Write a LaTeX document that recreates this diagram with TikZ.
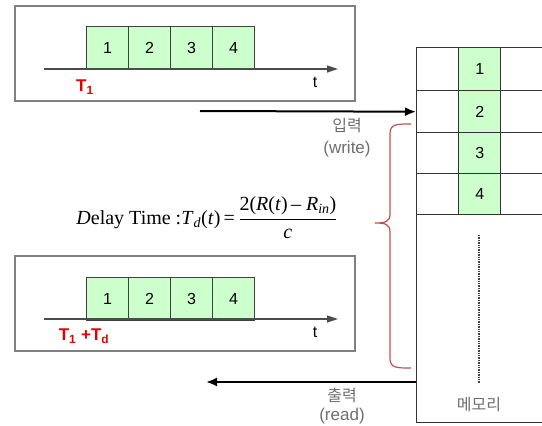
\documentclass[tikz,border=0pt]{standalone}
\usepackage{fontspec}
\setmainfont{Liberation Sans}
\newfontfamily\krfont{Noto Sans CJK KR}
\newfontfamily\serfont{Liberation Serif}
\usetikzlibrary{arrows.meta}
\definecolor{cellgreen}{RGB}{204,255,204}
\definecolor{panelgray}{RGB}{128,128,128}
\definecolor{bracered}{RGB}{192,80,77}
\definecolor{labgray}{RGB}{110,110,110}
\begin{document}
\begin{tikzpicture}[x=1pt,y=-1pt,
  panel/.style={draw=panelgray,line width=1.5pt},
  cell/.style={draw=black!75,fill=cellgreen,line width=1pt,minimum width=42pt,minimum height=43pt,inner sep=0pt,font=\fontsize{16}{18}\selectfont,anchor=north west},
  axis/.style={draw=black!70,line width=1.2pt,-{Triangle[length=11pt,width=7pt]}},
  mem/.style={draw=black!80,line width=1.4pt,inner sep=0pt,anchor=north west},
  memgreen/.style={mem,fill=cellgreen,font=\fontsize{16}{18}\selectfont},
  tlab/.style={text=red!90!black,font=\fontsize{17}{19}\selectfont\bfseries},
  tax/.style={font=\fontsize{16}{18}\selectfont},
  klab/.style={text=labgray,font=\fontsize{16}{18}\selectfont\krfont},
  wlab/.style={text=labgray,font=\fontsize{17}{19}\selectfont},
  io/.style={draw=black,line width=2pt,-{Latex[length=11pt,width=9pt]}}]
\useasboundingbox (0,0) rectangle (542,426);
\begin{scope}
\clip (0,0) rectangle (542,426);
% memory
\node[mem,minimum width=150pt,minimum height=208pt] (memlow) at (416,214) {};
\foreach \r/\y/\h in {1/47/43,2/90/42,3/132/41,4/173/41}{
  \node[mem,minimum width=42pt,minimum height=\h pt] (mL\r) at (416,\y) {};
  \node[memgreen,minimum width=42pt,minimum height=\h pt] (mM\r) at (458,\y) {\r};
  \node[mem,minimum width=60pt,minimum height=\h pt] (mR\r) at (500,\y) {};
}
\end{scope}
\coordinate (dtop) at (479,235);
\coordinate (dbot) at (479,383);
\draw[densely dotted,line width=1.4pt,black!75] (dtop) -- (dbot);
\node[klab] (memlab) at (479,405) {메모리};
% top panel
\node[panel,minimum width=340pt,minimum height=95pt,anchor=north west,inner sep=0pt] (p1) at (14,5) {};
\foreach \i in {1,...,4}{
  \node[cell] (a\i) at (86+42*\i-42,26) {\i};
}
\coordinate (ax1s) at (44,69);
\coordinate (ax1e) at (338,69);
\draw[axis] (ax1s) -- (ax1e);
\node[tlab] (t1) at (85,87) {T\textsubscript{1}};
\node[tax] (tt1) at (315,82) {t};
% bottom panel
\node[panel,minimum width=340pt,minimum height=95pt,anchor=north west,inner sep=0pt] (p2) at (14,255) {};
\foreach \i in {1,...,4}{
  \node[cell] (b\i) at (86+42*\i-42,277) {\i};
}
\coordinate (ax2s) at (44,319);
\coordinate (ax2e) at (338,319);
\draw[axis] (ax2s) -- (ax2e);
\node[tlab] (t2) at (84,336) {T\textsubscript{1} +T\textsubscript{d}};
\node[tax] (tt2) at (315,332) {t};
% arrows
\coordinate (win) at (200,111);
\draw[io] (win) -- (mL2.west);
\node[klab] (wk) at (347,126) {입력};
\node[wlab] (we) at (347,149) {(write)};
\coordinate (rout) at (206,382);
\coordinate (rsrc) at (416,382);
\draw[io] (rsrc) -- (rout);
\node[klab] (rk) at (342,395) {출력};
\node[wlab] (re) at (342,416) {(read)};
% brace
\draw[bracered,line width=1.2pt] (411,124) .. controls (396,124) and (390,124) .. (390,134) -- (390,214) .. controls (390,222) and (385,223) .. (375,223) .. controls (385,223) and (390,224) .. (390,232) -- (390,358) .. controls (390,368) and (396,368) .. (411,368);
% formula
\node[font=\fontsize{20}{24}\selectfont\serfont,inner sep=0pt] (formula) at (207,218)
  {\textit{D}elay Time :\textit{T}\textsubscript{\textit{d}}(\textit{t})\,=\,$\displaystyle\frac{\hbox{\serfont 2(\textit{R}(\textit{t})\,– \textit{R}\textsubscript{\textit{in}})}}{\hbox{\serfont\textit{c}}}$};
\end{tikzpicture}
\end{document}
